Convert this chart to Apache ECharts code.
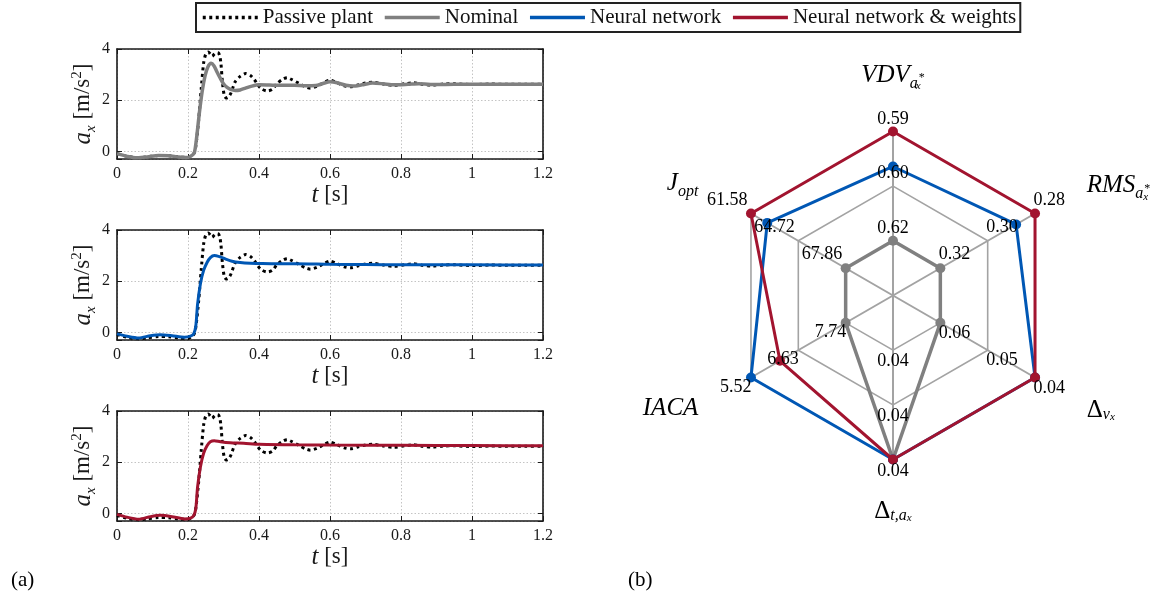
<!DOCTYPE html>
<html>
<head>
<meta charset="utf-8">
<script src="https://cdn.jsdelivr.net/npm/echarts@6/dist/echarts.min.js"></script>
<style>
  html, body { margin: 0; padding: 0; background: #fff; }
  #chart { width: 1172px; height: 607px; }
</style>
</head>
<body>
<div id="chart"></div>
<script>
// ---------- time responses: [t (s), a_x (m/s^2)] ----------
const passivePlant = [
  [0,-0.09],[0.03,-0.2],[0.056,-0.25],[0.085,-0.22],[0.117,-0.16],[0.146,-0.17],[0.174,-0.22],[0.2,-0.24],
  [0.211,-0.16],[0.218,-0.05],[0.223,0.3],[0.23,1.22],[0.237,2.41],[0.244,3.45],[0.25,3.8],[0.257,3.88],
  [0.263,3.8],[0.268,3.72],[0.274,3.8],[0.28,3.86],[0.286,3.84],[0.29,3.7],[0.293,3.4],[0.297,2.7],
  [0.302,2.2],[0.308,2.08],[0.314,2.12],[0.321,2.28],[0.333,2.72],[0.347,2.93],[0.362,3.04],[0.376,2.96],
  [0.387,2.8],[0.397,2.6],[0.406,2.45],[0.423,2.36],[0.437,2.42],[0.451,2.65],[0.465,2.8],[0.479,2.88],
  [0.493,2.8],[0.512,2.66],[0.531,2.52],[0.545,2.47],[0.563,2.54],[0.582,2.68],[0.6,2.78],[0.62,2.68],
  [0.64,2.56],[0.657,2.52],[0.68,2.6],[0.7,2.67],[0.72,2.7],[0.75,2.63],[0.78,2.58],[0.81,2.64],
  [0.835,2.68],[0.86,2.62],[0.89,2.59],[0.92,2.63],[0.95,2.64],[1.0,2.61],[1.05,2.63],[1.1,2.62],
  [1.15,2.62],[1.2,2.62]
];
const nominalResp = [
  [0,-0.09],[0.03,-0.2],[0.056,-0.25],[0.085,-0.22],[0.117,-0.16],[0.146,-0.17],[0.174,-0.22],[0.2,-0.24],
  [0.211,-0.16],[0.218,-0.05],[0.224,0.5],[0.232,1.5],[0.24,2.35],[0.248,2.95],[0.256,3.3],[0.265,3.44],
  [0.273,3.35],[0.281,3.12],[0.29,2.88],[0.3,2.64],[0.31,2.5],[0.32,2.42],[0.333,2.38],[0.347,2.4],
  [0.362,2.47],[0.38,2.55],[0.4,2.6],[0.43,2.59],[0.46,2.58],[0.5,2.58],[0.53,2.56],[0.56,2.57],
  [0.58,2.65],[0.6,2.72],[0.62,2.68],[0.645,2.58],[0.665,2.55],[0.69,2.6],[0.72,2.67],[0.75,2.64],
  [0.78,2.6],[0.82,2.62],[0.85,2.64],[0.9,2.61],[0.95,2.62],[1.0,2.62],[1.1,2.62],[1.2,2.62]
];
const neuralResp = [
  [0,-0.06],[0.028,-0.15],[0.061,-0.22],[0.094,-0.13],[0.122,-0.09],[0.155,-0.13],[0.19,-0.19],[0.207,-0.15],
  [0.216,-0.06],[0.222,0.25],[0.227,1.1],[0.235,1.9],[0.244,2.42],[0.254,2.74],[0.263,2.92],[0.274,3.0],
  [0.286,2.97],[0.305,2.87],[0.324,2.78],[0.347,2.73],[0.376,2.7],[0.404,2.69],[0.45,2.68],[0.5,2.68],
  [0.6,2.66],[0.7,2.65],[0.8,2.64],[1.0,2.64],[1.2,2.63]
];
const neuralWeightsResp = [
  [0,-0.04],[0.028,-0.15],[0.061,-0.23],[0.094,-0.13],[0.122,-0.08],[0.155,-0.13],[0.19,-0.22],[0.207,-0.19],
  [0.216,-0.09],[0.222,0.19],[0.227,1.03],[0.235,1.81],[0.244,2.35],[0.254,2.65],[0.263,2.8],[0.274,2.84],
  [0.291,2.8],[0.319,2.76],[0.357,2.74],[0.4,2.7],[0.5,2.68],[0.6,2.67],[0.8,2.66],[1.0,2.65],[1.2,2.64]
];

// ---------- performance metrics (counter-clockwise from the top axis) ----------
const metricLabels = [
  '{it|VDV}{sub|a}{ssubw|x}{ssup|*}',
  '{liftU| }{itU|J}{subU|opt}{gapR| }',
  '{dropD| }{itD|IACA}{gapR| }',
  '{rmb|Δ}{subb|t,a}{ssubb|x}',
  '{dropD2| }{gapL| }{rmD|Δ}{subD|v}{ssubD|x}',
  '{liftU2| }{gapL| }{itU|RMS}{subU|a}{ssubUw|x}{ssupU|*}'
];
// value on the outer ring and value change per ring (lower is better)
const metricBest = [0.591, 61.58, 5.52, 0.040, 0.04, 0.28];
const metricStep = [0.0125, 3.14, 1.11, 0.0004, 0.01, 0.02];
const nominalMetrics = [0.616, 67.86, 7.74, 0.040, 0.06, 0.32];
const neuralMetrics = [0.599, 62.66, 5.52, 0.040, 0.04, 0.288];
const neuralWeightsMetrics = [0.591, 61.58, 6.20, 0.040, 0.04, 0.28];

const seriesNames = ['Passive plant', 'Nominal', 'Neural network', 'Neural network & weights'];
const panelLabels = ['(a)', '(b)'];

// ---------- styling ----------
const serif = "'Liberation Serif', 'Times New Roman', serif";
const COL = { passive: '#000000', nominal: '#808080', nn: '#0057b4', nnw: '#a2142f' };
const ink = '#1a1a1a';

// math-like rich text for the radar axis names
const txt = (size, italic, extra) => Object.assign(
  { fontFamily: serif, fontStyle: italic ? 'italic' : 'normal', fontSize: size, color: '#000' }, extra);
const mathRich = {
  it: txt(25, true, { lineHeight: 32 }),
  sub: txt(16, true, { lineHeight: 16, verticalAlign: 'bottom' }),
  ssubw: txt(11, true, { lineHeight: 11, verticalAlign: 'bottom', width: 1 }),
  ssup: txt(12, false, { lineHeight: 12, padding: [12, 0, 0, 0], verticalAlign: 'top' }),
  // names sitting below the anchor point
  itD: txt(25, true, { lineHeight: 32, verticalAlign: 'bottom' }),
  rmD: txt(25, false, { lineHeight: 32, verticalAlign: 'bottom' }),
  subD: txt(16, true, { lineHeight: 16, verticalAlign: 'bottom' }),
  ssubD: txt(11, true, { lineHeight: 11, verticalAlign: 'bottom' }),
  dropD: { fontSize: 1, lineHeight: 46, width: 0.1 },
  dropD2: { fontSize: 1, lineHeight: 50, width: 0.1 },
  // names sitting above the anchor point
  itU: txt(25, true, { lineHeight: 32, verticalAlign: 'top' }),
  subU: txt(16, true, { lineHeight: 16, padding: [13, 0, 0, 0], verticalAlign: 'top' }),
  ssubUw: txt(11, true, { lineHeight: 11, padding: [19, 0, 0, 0], verticalAlign: 'top', width: 1 }),
  ssupU: txt(12, false, { lineHeight: 12, padding: [10, 0, 0, 0], verticalAlign: 'top' }),
  liftU: { fontSize: 1, lineHeight: 46, width: 0.1 },
  liftU2: { fontSize: 1, lineHeight: 42, width: 0.1 },
  // bottom name
  rmb: txt(25, false, { lineHeight: 24 }),
  subb: txt(16, true, { lineHeight: 16, verticalAlign: 'bottom' }),
  ssubb: txt(11, true, { lineHeight: 11, verticalAlign: 'bottom' }),
  gapL: { width: 17, fontSize: 10 },
  gapR: { width: 18, fontSize: 10 }
};
const axisRich = {
  it: txt(25, true, { lineHeight: 30, color: ink }),
  rm: txt(23, false, { lineHeight: 30, color: ink }),
  sub: txt(15, true, { lineHeight: 15, verticalAlign: 'bottom', color: ink }),
  sup: txt(15, false, { lineHeight: 15, verticalAlign: 'top', padding: [1, 0, 0, 0], color: ink })
};

// ---------- three stacked time plots ----------
const panels = [
  { data: nominalResp, name: seriesNames[1], color: COL.nominal, width: 3.5 },
  { data: neuralResp, name: seriesNames[2], color: COL.nn, width: 3 },
  { data: neuralWeightsResp, name: seriesNames[3], color: COL.nnw, width: 3 }
];
const gridTops = [49, 230, 411];
const grids = gridTops.map(t => ({ left: 117, top: t, width: 426, height: 110 }));

const frameLine = { show: true, onZero: false, lineStyle: { color: ink, width: 1.6 } };
const inTick = { show: true, inside: true, length: 5, lineStyle: { color: ink, width: 1 } };
const gridLine = { show: true, lineStyle: { color: '#c4c4c4', width: 1, type: [1.5, 2] } };

const xAxes = [], yAxes = [], lineSeries = [];
panels.forEach((p, i) => {
  xAxes.push({
    type: 'value', gridIndex: i, position: 'bottom', min: 0, max: 1.2, interval: 0.2,
    axisLine: frameLine, axisTick: inTick, splitLine: gridLine,
    axisLabel: { color: ink, fontFamily: serif, fontSize: 16, margin: 7 },
    name: '{it|t}{rm| [s]}', nameLocation: 'middle', nameGap: 17,
    nameTextStyle: { rich: axisRich }
  });
  xAxes.push({
    type: 'value', gridIndex: i, position: 'top', min: 0, max: 1.2, interval: 0.2,
    axisLine: frameLine, axisTick: inTick, splitLine: { show: false }, axisLabel: { show: false }
  });
  yAxes.push({
    type: 'value', gridIndex: i, position: 'left', min: -0.3, max: 4, splitNumber: 2,
    axisLine: frameLine, axisTick: inTick, splitLine: gridLine,
    axisLabel: {
      color: ink, fontFamily: serif, fontSize: 16, margin: 7,
      formatter: v => (Math.abs(v / 2 - Math.round(v / 2)) < 1e-9 ? String(v) : '')
    },
    name: '{it|a}{sub|x}{rm| [m/s}{sup|2}{rm|]}', nameLocation: 'middle', nameRotate: 90, nameGap: 9,
    nameTextStyle: { rich: axisRich }
  });
  yAxes.push({
    type: 'value', gridIndex: i, position: 'right', min: -0.3, max: 4, splitNumber: 2,
    axisLine: frameLine, axisTick: inTick, splitLine: { show: false }, axisLabel: { show: false }
  });
  lineSeries.push({
    type: 'line', name: seriesNames[0], xAxisIndex: 2 * i, yAxisIndex: 2 * i,
    data: passivePlant, symbol: 'none', smooth: 0.25,
    lineStyle: { color: COL.passive, width: 3, type: [3, 3.5], cap: 'butt' },
    itemStyle: { color: COL.passive }, z: 2
  });
  lineSeries.push({
    type: 'line', name: p.name, xAxisIndex: 2 * i, yAxisIndex: 2 * i,
    data: p.data, symbol: 'none', smooth: 0.25,
    lineStyle: { color: p.color, width: p.width }, itemStyle: { color: p.color }, z: 3
  });
});

// ---------- radar ----------
// radial score: 1 on the outer ring (best value), 0 at the centre
const toScore = vals => vals.map((v, i) => 1 - (v - metricBest[i]) / (3 * metricStep[i]));

const tickPlacement = [
  { align: 'center', verticalAlign: 'bottom', position: [0.5, -3] },
  { align: 'right', verticalAlign: 'bottom', position: [-3, -4] },
  { align: 'right', verticalAlign: 'top', position: [1, 1] },
  { align: 'center', verticalAlign: 'top', position: [0.5, 3] },
  { align: 'left', verticalAlign: 'top', position: [-1, 2] },
  { align: 'left', verticalAlign: 'bottom', position: [-1, -4] }
];
const tickItems = [];
for (let ring = 1; ring <= 3; ring++) {
  metricBest.forEach((best, axis) => {
    const text = (best + (3 - ring) * metricStep[axis]).toFixed(2);
    tickItems.push({
      value: metricBest.map(() => ring / 3),
      label: Object.assign({
        show: true, color: '#000', fontFamily: serif, fontSize: 18,
        formatter: p => (p.dimensionIndex === axis ? text : '')
      }, tickPlacement[axis])
    });
  });
}

const radarSeries = [
  { vals: nominalMetrics, name: seriesNames[1], color: COL.nominal, width: 3.5, z: 3 },
  { vals: neuralMetrics, name: seriesNames[2], color: COL.nn, width: 3, z: 4 },
  { vals: neuralWeightsMetrics, name: seriesNames[3], color: COL.nnw, width: 3, z: 5 }
].map(s => ({
  type: 'radar', name: s.name, z: s.z, symbol: 'circle', symbolSize: 10,
  lineStyle: { color: s.color, width: s.width }, itemStyle: { color: s.color },
  data: [{ value: toScore(s.vals) }]
}));

const option = {
  animation: false,
  backgroundColor: '#fff',
  title: [
    { text: panelLabels[0], left: 6, top: 565, textStyle: { fontFamily: serif, fontSize: 21, fontWeight: 'normal', color: '#000' } },
    { text: panelLabels[1], left: 623, top: 565, textStyle: { fontFamily: serif, fontSize: 21, fontWeight: 'normal', color: '#000' } }
  ],
  legend: {
    data: seriesNames, left: 196, top: 3,
    padding: [4, 4, 4, 5], itemWidth: 55, itemHeight: 14, itemGap: 10,
    borderColor: '#222', borderWidth: 2, backgroundColor: '#fff',
    itemStyle: { color: 'rgba(0,0,0,0)', borderWidth: 0, opacity: 0 },
    lineStyle: { width: 3.5 },
    textStyle: { fontFamily: serif, fontSize: 21, color: '#111' }
  },
  grid: grids,
  xAxis: xAxes,
  yAxis: yAxes,
  radar: {
    center: [893, 295.5], radius: 164, startAngle: 90, splitNumber: 3, shape: 'polygon',
    indicator: metricLabels.map(n => ({ name: n, min: 0, max: 1 })),
    nameGap: 40,
    axisName: { color: '#000', rich: mathRich },
    splitLine: { lineStyle: { color: '#a3a3a3', width: 1.6 } },
    splitArea: { show: false },
    axisLine: { lineStyle: { color: '#a3a3a3', width: 2 } }
  },
  series: lineSeries.concat(radarSeries, [{
    type: 'radar', name: 'ring values', z: 8, silent: true,
    symbol: 'circle', symbolSize: 1,
    itemStyle: { color: 'rgba(0,0,0,0)' },
    lineStyle: { width: 0, opacity: 0 },
    data: tickItems
  }])
};

const chart = echarts.init(document.getElementById('chart'), null, { renderer: 'canvas' });
chart.setOption(option);
</script>
</body>
</html>
